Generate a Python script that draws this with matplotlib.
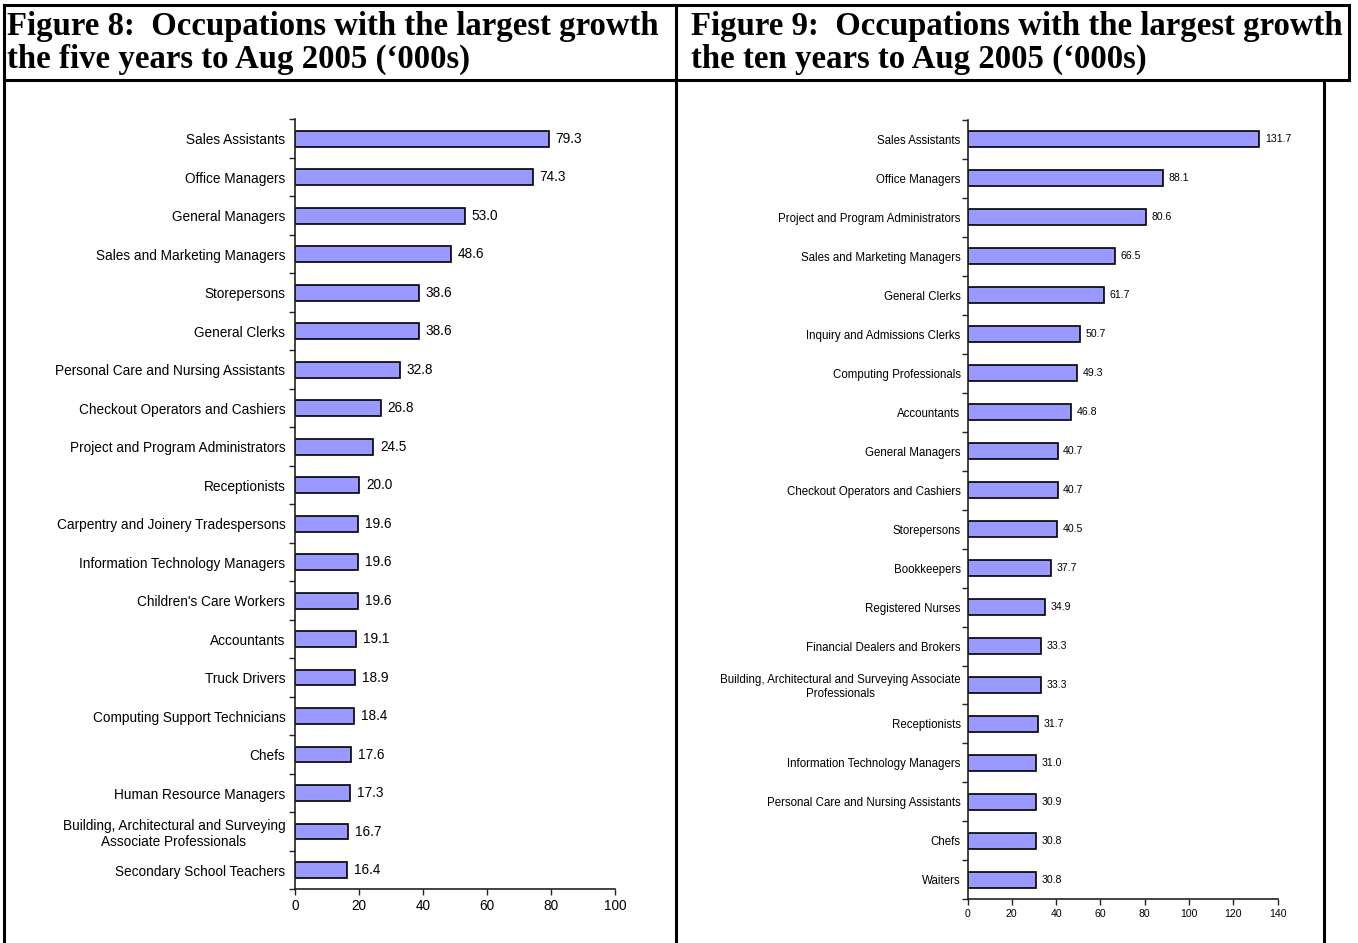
import matplotlib
matplotlib.use("Agg")
import matplotlib.pyplot as plt
from matplotlib.lines import Line2D

W, H = 1358, 943
DPI = 100

# Figure 8: growth over the five years to Aug 2005 ('000s)
five_year_labels = [
    "Sales Assistants",
    "Office Managers",
    "General Managers",
    "Sales and Marketing Managers",
    "Storepersons",
    "General Clerks",
    "Personal Care and Nursing Assistants",
    "Checkout Operators and Cashiers",
    "Project and Program Administrators",
    "Receptionists",
    "Carpentry and Joinery Tradespersons",
    "Information Technology Managers",
    "Children's Care Workers",
    "Accountants",
    "Truck Drivers",
    "Computing Support Technicians",
    "Chefs",
    "Human Resource Managers",
    "Building, Architectural and Surveying\nAssociate Professionals",
    "Secondary School Teachers",
]
five_year_values = [79.3, 74.3, 53.0, 48.6, 38.6, 38.6, 32.8, 26.8, 24.5, 20.0,
                    19.6, 19.6, 19.6, 19.1, 18.9, 18.4, 17.6, 17.3, 16.7, 16.4]
five_year_ticks = [0, 20, 40, 60, 80, 100]

# Figure 9: growth over the ten years to Aug 2005 ('000s)
ten_year_labels = [
    "Sales Assistants",
    "Office Managers",
    "Project and Program Administrators",
    "Sales and Marketing Managers",
    "General Clerks",
    "Inquiry and Admissions Clerks",
    "Computing Professionals",
    "Accountants",
    "General Managers",
    "Checkout Operators and Cashiers",
    "Storepersons",
    "Bookkeepers",
    "Registered Nurses",
    "Financial Dealers and Brokers",
    "Building, Architectural and Surveying Associate\nProfessionals",
    "Receptionists",
    "Information Technology Managers",
    "Personal Care and Nursing Assistants",
    "Chefs",
    "Waiters",
]
ten_year_values = [131.7, 88.1, 80.6, 66.5, 61.7, 50.7, 49.3, 46.8, 40.7, 40.7,
                   40.5, 37.7, 34.9, 33.3, 33.3, 31.7, 31.0, 30.9, 30.8, 30.8]
ten_year_ticks = [0, 20, 40, 60, 80, 100, 120, 140]

titles = [
    ("Figure 8:  Occupations with the largest growth",
     "the five years to Aug 2005 (\u2018000s)"),
    ("Figure 9:  Occupations with the largest growth",
     "the ten years to Aug 2005 (\u2018000s)"),
]

BAR_COLOR = "#9999FF"

fig = plt.figure(figsize=(W / DPI, H / DPI), dpi=DPI)
fig.patch.set_facecolor("white")


def fx(px):
    return px / W


def fy(py):
    return 1 - py / H


def line(x0, y0, x1, y1, lw=2.2):
    fig.add_artist(Line2D([fx(x0), fx(x1)], [fy(y0), fy(y1)],
                          transform=fig.transFigure, color="black",
                          lw=lw, solid_capstyle="projecting"))


# table frame around the two figures
LEFT, TOP, MID, HEAD_B, RIGHT_H, RIGHT_B = 4, 5, 676, 80, 1349, 1324
line(LEFT, TOP, RIGHT_H, TOP)
line(LEFT, HEAD_B, RIGHT_H, HEAD_B)
line(LEFT, TOP, LEFT, H + 5)
line(MID, TOP, MID, H + 5)
line(RIGHT_H, TOP, RIGHT_H, HEAD_B)
line(RIGHT_B, HEAD_B, RIGHT_B, H + 5)

# headings
for (l1, l2), x0 in zip(titles, [7, 691]):
    for txt, base in [(l1, 35), (l2, 68)]:
        fig.text(fx(x0), fy(base), txt, family="Liberation Serif",
                 fontweight="bold", fontsize=23.6, ha="left", va="baseline")


def bar_panel(rect, labels, values, ticks, xmax, lab_fs, val_fs, lab_pad,
              val_off, fmt):
    x0, y0, x1, y1 = rect
    ax = fig.add_axes([fx(x0), fy(y1), fx(x1) - fx(x0), fy(y0) - fy(y1)])
    n = len(labels)
    pos = list(range(n))
    ax.barh(pos, values, height=0.41, color=BAR_COLOR,
            edgecolor="black", linewidth=1.2)
    ax.set_ylim(n - 0.5, -0.5)
    ax.set_xlim(0, xmax)
    ax.set_yticks([p - 0.5 for p in range(n + 1)])
    ax.set_yticklabels([])
    ax.set_yticks(pos, minor=True)
    ax.set_yticklabels(labels, minor=True, fontsize=lab_fs,
                       family="Liberation Sans", ha="right",
                       multialignment="center")
    ax.tick_params(axis="y", which="minor", length=0, pad=lab_pad)
    ax.tick_params(axis="y", which="major", length=4, width=1.0,
                   direction="out", color="#222222")
    ax.set_xticks(ticks)
    ax.set_xticklabels([str(t) for t in ticks], fontsize=val_fs,
                       family="Liberation Sans")
    ax.tick_params(axis="x", length=4, width=1.0, direction="out",
                   color="#222222", pad=3)
    for s in ["top", "right"]:
        ax.spines[s].set_visible(False)
    for s in ["left", "bottom"]:
        ax.spines[s].set_color("#222222")
        ax.spines[s].set_linewidth(1.2)
    for p, v in zip(pos, values):
        ax.annotate(fmt.format(v), (v, p), xytext=(val_off, 0),
                    textcoords="offset points", ha="left", va="center",
                    fontsize=val_fs, family="Liberation Sans")
    return ax


bar_panel((295, 119.5, 615, 889.3), five_year_labels, five_year_values,
          five_year_ticks, 100, 9.8, 9.8, 7.0, 5.0, "{:.1f}")
bar_panel((967.5, 120, 1277.6, 899.3), ten_year_labels, ten_year_values,
          ten_year_ticks, 140, 8.3, 7.6, 5.0, 4.0, "{:.1f}")

fig.savefig("out.png", dpi=DPI)
